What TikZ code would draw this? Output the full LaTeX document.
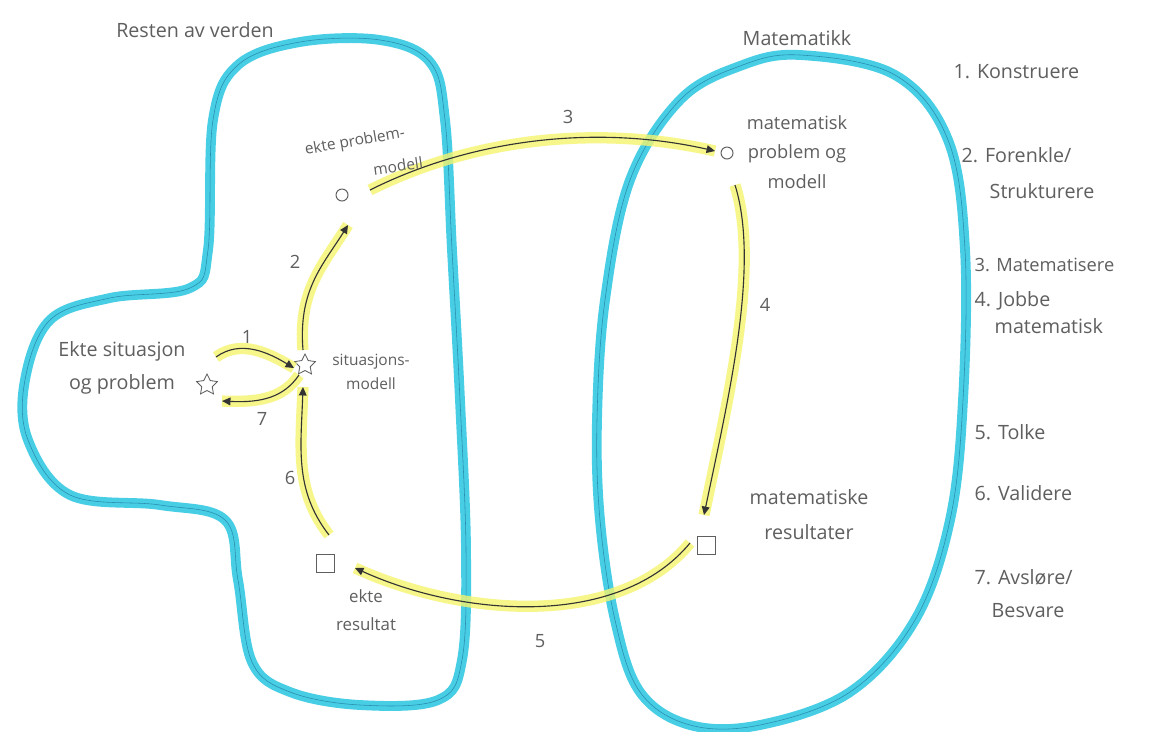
\documentclass[tikz,border=0pt]{standalone}
\usepackage{fontspec}
\setmainfont{Open Sans}
\usepackage{tikz}
\usetikzlibrary{arrows.meta,calc,shapes.geometric}

\definecolor{zoneblue}{RGB}{72,206,228}
\definecolor{zoneline}{RGB}{40,140,175}
\definecolor{hlyellow}{RGB}{244,244,110}
\definecolor{pencil}{RGB}{95,95,95}

\begin{document}
\begin{tikzpicture}[x=0.025cm,y=-0.025cm,>=Triangle,
  zone/.style={draw=zoneline,line width=0.4pt,preaction={draw=zoneblue,line width=7pt}},
  stepline/.style={draw=black!80,line width=0.8pt,-{Triangle[length=6pt,width=5.5pt]},
    preaction={draw=hlyellow,line width=8pt,opacity=.8,-}},
  txt/.style={text=pencil,font=\fontsize{14}{22}\selectfont,align=center,inner sep=1pt},
  small/.style={txt,font=\fontsize{11}{17}\selectfont},
  num/.style={text=pencil,font=\fontsize{13}{15}\selectfont,inner sep=1pt},
  startype/.style={star,star points=5,star point ratio=2,draw=pencil,line width=0.6pt,minimum size=0.55cm,inner sep=0pt},
  roundtype/.style={circle,draw=pencil,line width=0.7pt,minimum size=0.3cm,inner sep=0pt},
  boxtype/.style={rectangle,draw=pencil,line width=0.7pt,minimum size=0.45cm,inner sep=0pt}]
\fill[white] (0,0) rectangle (1162,731);
\useasboundingbox (0,0) rectangle (1162,731);

% the two worlds
\draw[zone] plot[smooth cycle,tension=0.6] coordinates {(213,120) (238,65) (300,42) (380,40) (430,62) (445,120) (452,250) (460,400) (466,550) (462,660) (438,700) (360,705) (290,692) (252,662) (238,580) (225,520) (160,505) (70,495) (28,440) (25,380) (50,320) (110,298) (190,288) (208,250)};
\draw[zone] plot[smooth cycle,tension=0.6] coordinates {(800,55) (895,75) (948,140) (965,250) (963,400) (950,520) (915,620) (850,692) (760,725) (690,725) (640,692) (615,620) (600,520) (597,420) (605,300) (630,180) (680,100) (740,66)};
\node[txt] (ttl) at (195,30) {Resten av verden};
\node[txt] (ttr) at (797,38) {Matematikk};

% stations
\node[startype] (rs) at (207,385) {};
\node[startype] (sm) at (305,365) {};
\node[roundtype] (em) at (342,195) {};
\node[roundtype] (mm) at (727,153) {};
\node[boxtype] (mr) at (706,545) {};
\node[boxtype] (er) at (325,563) {};

% cycle
\draw[stepline] ([shift={(9,-28)}]rs.center) .. controls +(25,-18) and +(-25,-15) .. ([shift={(-11,3)}]sm.center);
\draw[stepline] ([shift={(-6,10)}]sm.center) .. controls +(-15,22) and +(40,2) .. ([shift={(15,16)}]rs.center);
\draw[stepline] ([shift={(-2,-15)}]sm.center) .. controls +(-5,-60) and +(-25,40) .. ([shift={(6,30)}]em.center);
\draw[stepline] ([shift={(28,-5)}]em.center) .. controls +(110,-55) and +(-110,-25) .. ([shift={(-12,-2)}]mm.center);
\draw[stepline] ([shift={(8,32)}]mm.center) .. controls +(25,80) and +(25,-120) .. ([shift={(-2,-30)}]mr.center);
\draw[stepline] ([shift={(-16,-2)}]mr.center) .. controls +(-70,85) and +(110,50) .. ([shift={(30,5)}]er.center);
\draw[stepline] ([shift={(4,-28)}]er.center) .. controls +(-35,-45) and +(-2,60) .. ([shift={(-2,22)}]sm.center);

\node[num] (n1) at (247,337) {1};
\node[num] (n2) at (295,262) {2};
\node[num] (n3) at (568,117) {3};
\node[num] (n4) at (765,305) {4};
\node[num] (n5) at (540,641) {5};
\node[num] (n6) at (290,478) {6};
\node[num] (n7) at (262,419) {7};

% labels
\node[txt,font=\fontsize{14}{23}\selectfont] (rsl) at (122,368) {Ekte situasjon\\og problem};
\node[small] (sml) at (371,372) {situasjons-\\modell};
\node[small,rotate=10] (eml) at (355,142) {ekte problem-};
\node[small,rotate=8] (eml2) at (398,166) {modell};
\node[txt,font=\fontsize{13}{21}\selectfont] (mml) at (797,152) {matematisk\\problem og\\modell};
\node[txt,font=\fontsize{14}{25}\selectfont] (mrl) at (809,515) {matematiske\\resultater};
\node[small,font=\fontsize{12}{20}\selectfont] (erl) at (366,610) {ekte\\resultat};

% steps
\node[txt,anchor=west] (s1) at (952,72) {1. Konstruere};
\node[txt,anchor=west] (s2) at (960,155) {2. Forenkle/};
\node[txt,anchor=west] (s2b) at (988,191) {Strukturere};
\node[txt,anchor=west,font=\fontsize{13}{15}\selectfont] (s3) at (973,265) {3. Matematisere};
\node[txt,anchor=west] (s4) at (973,301) {4. Jobbe};
\node[txt,anchor=west] (s4b) at (993,326) {matematisk};
\node[txt,anchor=west] (s5) at (973,432) {5. Tolke};
\node[txt,anchor=west] (s6) at (973,493) {6. Validere};
\node[txt,anchor=west] (s7) at (973,577) {7. Avsløre/};
\node[txt,anchor=west] (s7b) at (990,611) {Besvare};
\end{tikzpicture}
\end{document}
